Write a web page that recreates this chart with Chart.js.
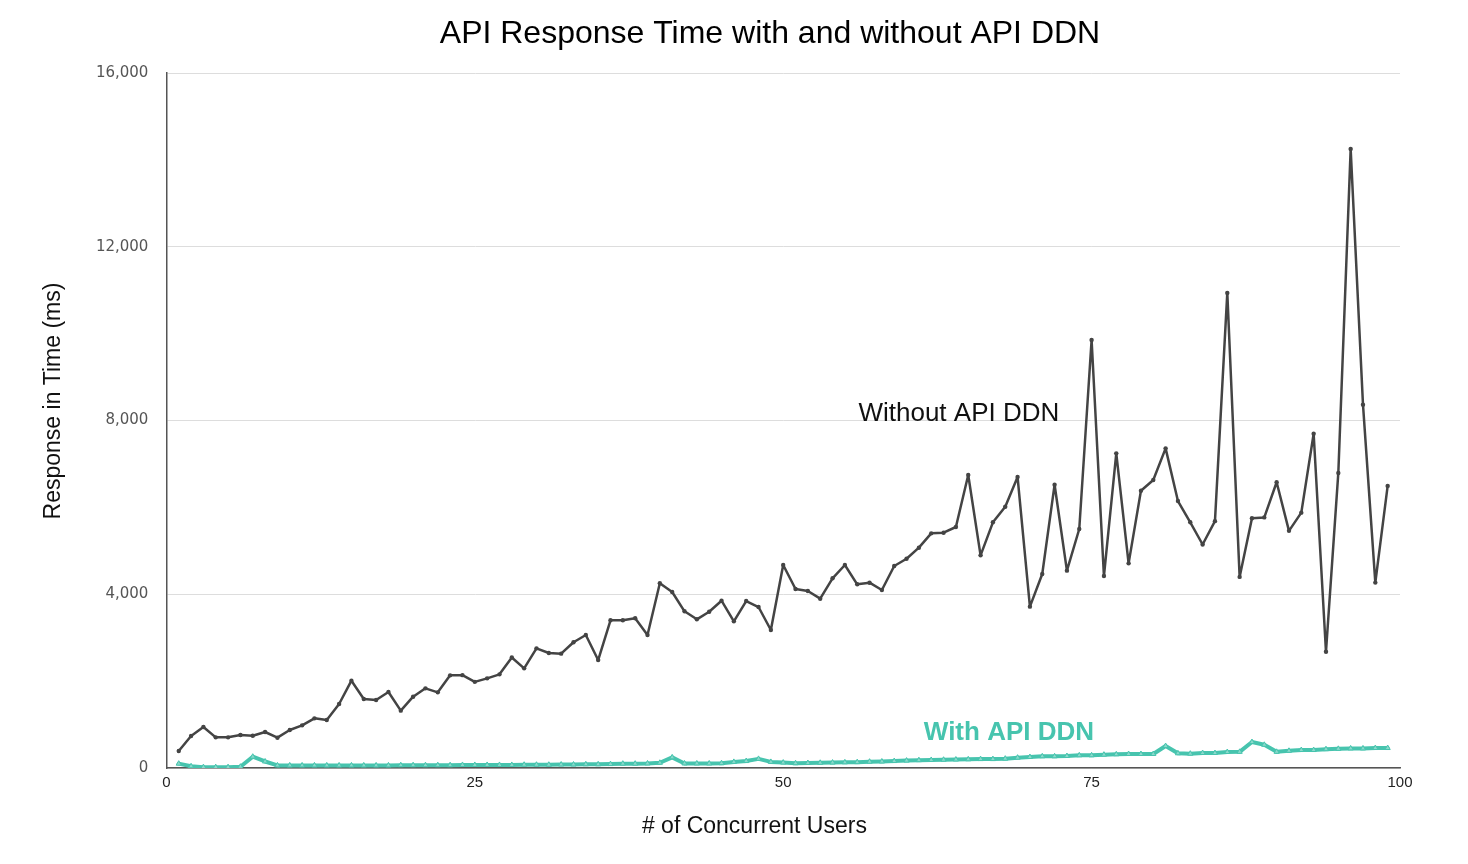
<!DOCTYPE html>
<html>
<head>
<meta charset="utf-8">
<title>API Response Time with and without API DDN</title>
<script src="https://cdn.jsdelivr.net/npm/chart.js@4.4.1/dist/chart.umd.min.js"></script>
<style>
  html, body { margin: 0; padding: 0; background: #fff; }
  canvas { display: block; }
</style>
</head>
<body>
<canvas id="chartCanvas" width="1468" height="864"></canvas>
<script>
// concurrent users (x values)
const users = [
  1, 2, 3, 4, 5, 6, 7, 8, 9, 10, 11, 12, 13, 14, 15, 16, 17, 18, 19, 20,
  21, 22, 23, 24, 25, 26, 27, 28, 29, 30, 31, 32, 33, 34, 35, 36, 37, 38, 39, 40,
  41, 42, 43, 44, 45, 46, 47, 48, 49, 50, 51, 52, 53, 54, 55, 56, 57, 58, 59, 60,
  61, 62, 63, 64, 65, 66, 67, 68, 69, 70, 71, 72, 73, 74, 75, 76, 77, 78, 79, 80,
  81, 82, 83, 84, 85, 86, 87, 88, 89, 90, 91, 92, 93, 94, 95, 96, 97, 98, 99
];

// response time in ms
const withoutDdn = [
  390, 737, 944, 706, 706, 760, 744, 829, 698, 875,
  982, 1143, 1105, 1473, 2010, 1588, 1565, 1750, 1320, 1642,
  1834, 1742, 2133, 2137, 1983, 2064, 2156, 2544, 2294, 2755,
  2647, 2632, 2895, 3062, 2486, 3400, 3400, 3446, 3062, 4252,
  4051, 3607, 3423, 3598, 3851, 3377, 3844, 3706, 3177, 4673,
  4121, 4075, 3898, 4367, 4673, 4229, 4266, 4098, 4650, 4818,
  5072, 5402, 5417, 5548, 6745, 4896, 5656, 6016, 6699, 3714,
  4466, 6522, 4543, 5502, 9853, 4420, 7244, 4711, 6384, 6630,
  7359, 6146, 5656, 5145, 5683, 10937, 4399, 5750, 5769, 6579,
  5460, 5879, 7696, 2677, 6793, 14252, 8365, 4268, 6494
];

const withDdn = [
  100, 40, 20, 20, 20, 30, 260, 150, 60, 60,
  60, 60, 60, 60, 60, 60, 60, 60, 65, 65,
  65, 65, 65, 70, 70, 70, 70, 70, 75, 75,
  75, 80, 80, 85, 85, 90, 100, 100, 105, 120,
  245, 105, 105, 105, 110, 140, 160, 210, 140, 125,
  110, 115, 120, 125, 130, 135, 145, 150, 160, 170,
  180, 185, 190, 195, 200, 205, 205, 215, 238, 253,
  269, 269, 276, 292, 292, 307, 315, 322, 322, 322,
  506, 338, 330, 345, 345, 368, 372, 598, 534, 372,
  396, 414, 414, 433, 441, 451, 451, 460, 460
];

const titleText = 'API Response Time with and without API DDN';
const xTitle = '# of Concurrent Users';
const yTitle = 'Response in Time (ms)';

const darkColor = '#444444';
const tealColor = '#47c4ae';
const sans = '"Liberation Sans", Arial, sans-serif';

// draws the chart title, axis titles and the two series labels
const extraText = {
  id: 'extraText',
  afterDraw(chart) {
    const ctx = chart.ctx;
    const area = chart.chartArea;
    const xs = chart.scales.x;
    const ys = chart.scales.y;
    ctx.save();
    ctx.textBaseline = 'middle';
    ctx.textAlign = 'center';

    ctx.fillStyle = '#000';
    ctx.font = '32px ' + sans;
    ctx.fillText(titleText, 770, 34);

    ctx.fillStyle = '#111';
    ctx.font = '23px ' + sans;
    ctx.fillText(xTitle, area.left + 588, area.bottom + 59);

    ctx.save();
    ctx.translate(area.left - 113, area.top + 328);
    ctx.rotate(-Math.PI / 2);
    ctx.fillText(yTitle, 0, 0);
    ctx.restore();

    ctx.textAlign = 'left';
    ctx.font = '26px ' + sans;
    ctx.fillStyle = '#111';
    ctx.fillText('Without API DDN', xs.getPixelForValue(56.1), ys.getPixelForValue(8150));

    ctx.font = 'bold 26px ' + sans;
    ctx.fillStyle = tealColor;
    ctx.fillText('With API DDN', xs.getPixelForValue(61.4), ys.getPixelForValue(805));
    ctx.restore();
  }
};

const ctx = document.getElementById('chartCanvas').getContext('2d');
new Chart(ctx, {
  type: 'line',
  data: {
    datasets: [
      {
        label: 'Without API DDN',
        data: users.map((u, i) => ({ x: u, y: withoutDdn[i] })),
        borderColor: darkColor,
        backgroundColor: darkColor,
        borderWidth: 2.5,
        borderJoinStyle: 'round',
        borderCapStyle: 'round',
        pointRadius: 2.2,
        pointBorderWidth: 0,
        tension: 0
      },
      {
        label: 'With API DDN',
        data: users.map((u, i) => ({ x: u, y: withDdn[i] })),
        borderColor: tealColor,
        backgroundColor: '#8ad9cb',
        borderWidth: 4,
        borderJoinStyle: 'round',
        borderCapStyle: 'round',
        pointStyle: 'triangle',
        pointRadius: 3,
        pointBorderWidth: 1,
        tension: 0
      }
    ]
  },
  options: {
    responsive: false,
    animation: false,
    layout: { padding: { left: 72, right: 68, top: 73, bottom: 0 } },
    plugins: {
      legend: { display: false },
      tooltip: { enabled: false },
      title: { display: false }
    },
    scales: {
      x: {
        type: 'linear',
        min: 0,
        max: 100,
        afterFit: s => { s.height = 96; },
        ticks: {
          stepSize: 25,
          color: '#222',
          padding: 6,
          maxRotation: 0,
          font: { family: sans, size: 15 }
        },
        grid: { display: false, drawTicks: false },
        border: { display: true, color: '#555', width: 1.5 }
      },
      y: {
        min: 0,
        max: 16000,
        afterFit: s => { s.width = 94.4; },
        ticks: {
          stepSize: 4000,
          color: '#555',
          padding: 18,
          font: { family: '"DejaVu Sans", Verdana, sans-serif', size: 15 }
        },
        grid: { color: '#dddddd', lineWidth: 1, drawTicks: false },
        border: { display: true, color: '#555', width: 1.5 }
      }
    }
  },
  plugins: [extraText]
});
</script>
</body>
</html>
